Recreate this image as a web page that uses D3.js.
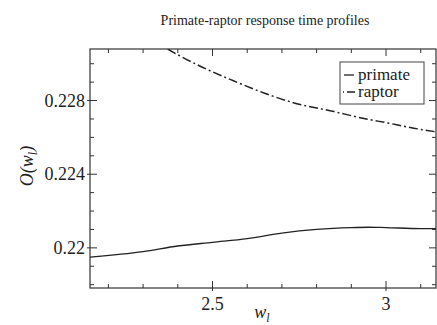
<!DOCTYPE html>
<html>
<head>
<meta charset="utf-8">
<script src="https://cdn.jsdelivr.net/npm/d3@7"></script>
<style>
  body { margin: 0; background: #fff; }
</style>
</head>
<body>
<script>
// data
var primateW = [2.147, 2.3, 2.4, 2.5, 2.6, 2.7, 2.8, 2.9, 2.95, 3.0, 3.1, 3.144];
var primateO = [0.2195, 0.2198, 0.2201, 0.2203, 0.2205, 0.2208, 0.2210, 0.2211, 0.22112, 0.2211, 0.22105, 0.22105];
var raptorW = [2.33, 2.371, 2.45, 2.557, 2.65, 2.73, 2.85, 2.943, 3.0, 3.08, 3.144];
var raptorO = [0.2313, 0.2308, 0.2300, 0.2291, 0.2284, 0.2279, 0.2274, 0.2270, 0.2268, 0.2265, 0.2263];
var xTicks = [2.5, 3];
var yTicks = [0.22, 0.224, 0.228];

var width = 437;
var height = 325;
var margin = {top: 49, right: 1, bottom: 37, left: 90};
var innerWidth = width - margin.left - margin.right;
var innerHeight = height - margin.top - margin.bottom;
var serif = "'Liberation Serif', 'Times New Roman', Times, serif";

var svg = d3.select("body")
  .append("svg")
    .attr("width", width)
    .attr("height", height)
    .attr("font-family", serif);

var g = svg.append("g")
    .attr("transform", "translate(" + margin.left + "," + margin.top + ")");

//Scales
var x = d3.scaleLinear()
    .domain([2.147, 3.144])
    .range([0, innerWidth]);

var y = d3.scaleLinear()
    .domain([0.21782, 0.2308])
    .range([innerHeight, 0]);

//Clip
svg.append("clipPath")
    .attr("id", "clip")
  .append("rect")
    .attr("width", innerWidth)
    .attr("height", innerHeight);

//Minor / major ticks on all four sides
var xMinor = d3.range(2.2, 3.15, 0.1).map(d => +d.toFixed(2));
var yMinor = d3.range(0.218, 0.2309, 0.001).map(d => +d.toFixed(4));

var ticks = g.append("g").attr("stroke", "#333").attr("stroke-width", 1);

xMinor.forEach(function(d) {
  var major = xTicks.indexOf(d) >= 0;
  var len = major ? 7 : 4;
  ticks.append("line")
    .attr("x1", x(d)).attr("x2", x(d))
    .attr("y1", innerHeight + (major ? 3 : 0)).attr("y2", innerHeight - len);
  ticks.append("line")
    .attr("x1", x(d)).attr("x2", x(d))
    .attr("y1", 0).attr("y2", len);
});

yMinor.forEach(function(d) {
  var major = yTicks.some(t => Math.abs(t - d) < 1e-6);
  var len = major ? 7 : 4;
  ticks.append("line")
    .attr("x1", major ? -3 : 0).attr("x2", len)
    .attr("y1", y(d)).attr("y2", y(d));
  ticks.append("line")
    .attr("x1", innerWidth).attr("x2", innerWidth - len)
    .attr("y1", y(d)).attr("y2", y(d));
});

//Frame
g.append("rect")
    .attr("width", innerWidth)
    .attr("height", innerHeight)
    .attr("fill", "none")
    .attr("stroke", "#333")
    .attr("stroke-width", 1.2);

//Tick labels
g.selectAll(".xlab").data(xTicks).enter()
  .append("text")
    .attr("x", d => x(d))
    .attr("y", innerHeight + 22)
    .attr("text-anchor", "middle")
    .attr("font-size", 18)
    .attr("fill", "#222")
    .text(d => d);

g.selectAll(".ylab").data(yTicks).enter()
  .append("text")
    .attr("x", -5)
    .attr("y", d => y(d) + 6)
    .attr("text-anchor", "end")
    .attr("font-size", 18)
    .attr("fill", "#222")
    .text(d => d);

//Lines
var line = d3.line()
    .curve(d3.curveMonotoneX)
    .x(d => x(d[0]))
    .y(d => y(d[1]));

var plot = g.append("g").attr("clip-path", "url(#clip)");

plot.append("path")
    .datum(primateW.map((w, i) => [w, primateO[i]]))
    .attr("fill", "none")
    .attr("stroke", "#222")
    .attr("stroke-width", 1.3)
    .attr("d", line);

plot.append("path")
    .datum(raptorW.map((w, i) => [w, raptorO[i]]))
    .attr("fill", "none")
    .attr("stroke", "#222")
    .attr("stroke-width", 1.5)
    .attr("stroke-dasharray", "9,3,2,3")
    .attr("d", line);

//Legend
var legend = svg.append("g").attr("transform", "translate(340,62)");
legend.append("rect")
    .attr("width", 84)
    .attr("height", 42)
    .attr("fill", "#fff")
    .attr("stroke", "#444")
    .attr("stroke-width", 1);
legend.append("line")
    .attr("x1", 4).attr("x2", 14).attr("y1", 13).attr("y2", 13)
    .attr("stroke", "#222").attr("stroke-width", 1.3);
legend.append("line")
    .attr("x1", 3).attr("x2", 15).attr("y1", 30).attr("y2", 30)
    .attr("stroke", "#222").attr("stroke-width", 1.3)
    .attr("stroke-dasharray", "1,3,8");
legend.append("text").attr("x", 18).attr("y", 18).attr("font-size", 17).attr("fill", "#222").text("primate");
legend.append("text").attr("x", 18).attr("y", 35).attr("font-size", 17).attr("fill", "#222").text("raptor");

//Title and axis labels
svg.append("text")
    .attr("x", 265)
    .attr("y", 25)
    .attr("text-anchor", "middle")
    .attr("font-size", 14)
    .attr("fill", "#222")
    .text("Primate-raptor response time profiles");

var xl = svg.append("text")
    .attr("x", 262)
    .attr("y", 318)
    .attr("text-anchor", "middle")
    .attr("font-size", 18)
    .attr("font-style", "italic")
    .attr("fill", "#222");
xl.append("tspan").text("w");
xl.append("tspan").attr("font-size", 12).attr("dy", 4).text("l");

var yl = svg.append("text")
    .attr("transform", "translate(33,166) rotate(-90)")
    .attr("text-anchor", "middle")
    .attr("font-size", 18)
    .attr("font-style", "italic")
    .attr("fill", "#222");
yl.append("tspan").text("O(w");
yl.append("tspan").attr("font-size", 12).attr("dy", 4).text("l");
yl.append("tspan").attr("dy", -4).text(")");
</script>
</body>
</html>
